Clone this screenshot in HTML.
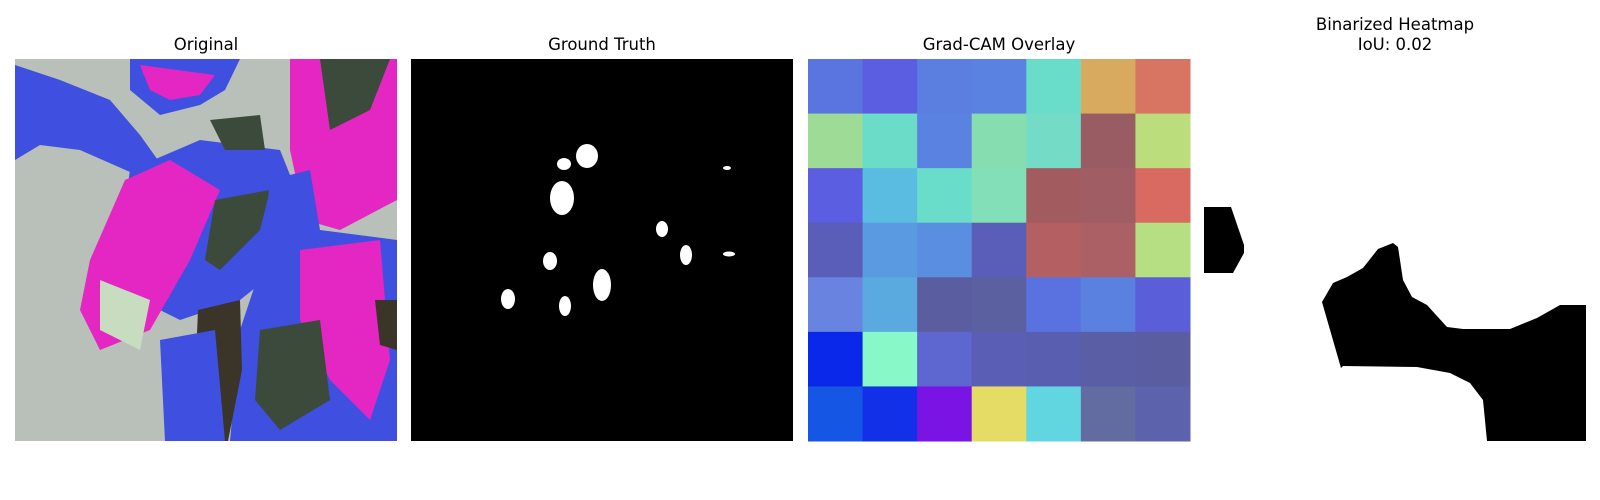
<!DOCTYPE html>
<html><head><meta charset="utf-8"><style>
body{margin:0;background:#fff;width:1600px;height:500px;overflow:hidden;font-family:"DejaVu Sans","Liberation Sans",sans-serif;}
svg{display:block}
</style></head><body>
<svg width="1600" height="500">
<g font-size="16.5" fill="#000" text-anchor="middle">
<text x="206" y="50">Original</text>
<text x="602" y="50">Ground Truth</text>
<text x="999" y="50">Grad-CAM Overlay</text>
<text x="1395" y="30">Binarized Heatmap</text>
<text x="1395" y="50">IoU: 0.02</text>
</g>
<g>
<clipPath id="c1"><rect x="15" y="59" width="382" height="382"/></clipPath>
<g clip-path="url(#c1)">
<rect x="15" y="59" width="382" height="382" fill="#b9bfb9"/>
<polygon fill="#3f4fe0" points="15,65 60,80 110,100 140,135 165,170 130,172 80,150 40,145 15,160"/>
<polygon fill="#3f4fe0" points="130,59 240,59 225,90 200,105 160,115 130,90"/>
<polygon fill="#e426c2" points="140,65 215,75 200,95 170,100 150,90"/>
<polygon fill="#3f4fe0" points="130,170 200,140 280,150 300,200 290,260 240,300 180,320 140,300 120,240"/>
<polygon fill="#e426c2" points="125,180 170,160 220,190 190,260 150,330 100,350 80,310 90,260"/>
<polygon fill="#3b4a3a" points="215,200 270,190 260,230 220,270 205,260"/>
<polygon fill="#3b4a3a" points="210,120 260,115 265,150 225,150"/>
<polygon fill="#e426c2" points="290,59 397,59 397,200 340,230 305,220 290,150"/>
<polygon fill="#3b4a3a" points="320,59 390,59 370,110 330,130"/>
<polygon fill="#3f4fe0" points="270,180 310,170 320,230 397,240 397,441 230,441 240,330 260,270"/>
<polygon fill="#e426c2" points="300,250 380,240 390,360 370,420 330,380 300,320"/>
<polygon fill="#3b4a3a" points="260,330 320,320 330,400 280,430 255,400"/>
<polygon fill="#3a3528" points="198,310 240,300 242,370 228,441 205,441 195,380"/>
<polygon fill="#3a3528" points="375,300 397,300 397,350 380,345"/>
<polygon fill="#3f4fe0" points="160,340 215,330 225,441 165,441"/>
<polygon fill="#c8dcc0" points="100,280 150,300 140,350 100,330"/>
</g></g>
<rect x="411" y="59" width="382" height="382" fill="#000"/>
<g fill="#fff" id="gt"></g>
<g id="cam"></g>
<g>
<rect x="1204" y="59" width="382" height="382" fill="#fff"/>
<polygon fill="#000" points="1204,207 1231,207 1244,245 1244,253 1233,273 1204,273"/>
<polygon fill="#000" points="1341,368 1322,302 1333,283 1347,277 1363,268 1378,249 1393,243 1398,247 1403,280 1412,297 1427,305 1447,327 1463,329 1510,329 1537,318 1560,305 1586,305 1586,441 1487,441 1483,400 1470,383 1450,373 1417,367 1343,366"/>
</g>
</svg>
<script>
const blobCx=[587,564,562,727,662,686,729,550,602,508,565];
const blobCy=[156,164,198,168,229,255,254,261,285,299,306];
const blobRx=[11,7,12,4,6,6,6,7,9,7,6];
const blobRy=[12,6,17,2,8,10,2.5,9,16,10,10];
const NS='http://www.w3.org/2000/svg';
const gt=document.getElementById('gt');
for(let i=0;i<blobCx.length;i++){const e=document.createElementNS(NS,'ellipse');
e.setAttribute('cx',blobCx[i]);e.setAttribute('cy',blobCy[i]);e.setAttribute('rx',blobRx[i]);e.setAttribute('ry',blobRy[i]);


gt.appendChild(e);}
const camColors=[
["#5a74e0","#5b5ee0","#5a7fe0","#5a82e0","#6adcca","#d8aa60","#d87462"],
["#9edb96","#6adcc8","#5a82e0","#86ddb0","#74dcc6","#985c62","#bcdd7c"],
["#5b5ee0","#5abce0","#6adcca","#82dfb8","#a25c60","#a05e64","#d86a62"],
["#5a5eb8","#5a9ae0","#5a8ee0","#5a5eb8","#b46062","#aa6064","#b6de82"],
["#6884e0","#5aaae0","#5a5ea0","#5a60a0","#5a72e0","#5a80e0","#5a5ed8"],
["#0a28ea","#88f8c8","#5e66d0","#5a5eb4","#5a5eb0","#5a5ea4","#5a5ea0"],
["#1656e4","#1230e8","#7a14e4","#e4dc64","#62d6e0","#626ca0","#5c62ac"]];
const cam=document.getElementById('cam');const x0=808,y0=59,S=382/7;
camColors.forEach((row,r)=>row.forEach((c,k)=>{const e=document.createElementNS(NS,'rect');
e.setAttribute('x',x0+k*S);e.setAttribute('y',y0+r*S);e.setAttribute('width',S+0.5);e.setAttribute('height',S+0.5);e.setAttribute('fill',c);


cam.appendChild(e);}));
</script>
</body></html>
